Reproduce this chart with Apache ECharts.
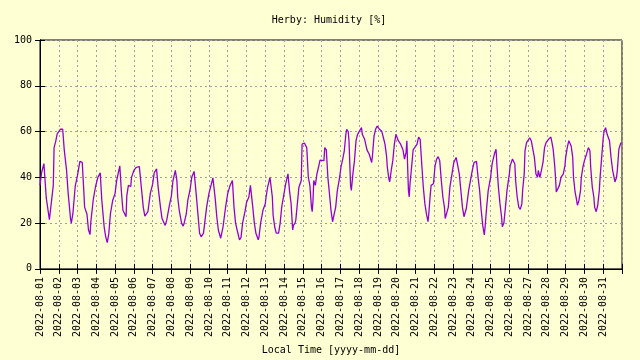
<!DOCTYPE html>
<html>
<head>
<meta charset="utf-8">
<script src="https://cdn.jsdelivr.net/npm/echarts@6/dist/echarts.min.js"></script>
<style>
html,body{margin:0;padding:0;background:#ffffd4;}
#chart{width:640px;height:360px;}
</style>
</head>
<body>
<div id="chart"></div>
<script>
// Hours since 2022-08-01 00:00 local time
const hours = [0,2,5,8,12,13,17,18,20,22,26,29,31,34,36,39,40,42,45,48,51,54,56,57,60,62,64,65,68,71,74,77,79,82,84,86,88,90,93,96,98,
102,104,106,108,110,111,113,116,117,120,123,127,130,132,134,136,138,141,144,146,149,151,154,156,160,161,162,165,168,170,173,175,176,178,181,183,184,187,189,192,194,
197,199,200,202,204,206,209,211,213,216,219,221,223,224,226,228,231,233,234,237,240,243,246,247,248,250,252,255,257,259,262,264,267,269,271,272,274,276,279,280,282,285,288,
289,291,293,294,297,298,300,302,305,307,309,312,314,317,318,319,321,323,324,326,327,329,331,334,335,338,340,341,343,345,347,348,349,350,352,354,356,358,360,363,364,366,368,370,372,374,375,378,380,383,
385,387,389,391,392,394,395,397,398,400,402,404,406,408,411,412,415,418,421,424,425,427,429,431,434,437,439,441,443,444,446,447,449,451,453,455,456,458,461,464,466,468,469,470,471,472,473,475,477,479,482,
484,486,488,490,492,494,496,497,499,500,503,505,507,509,511,513,515,517,518,520,522,524,527,529,532,534,536,538,540,542,544,545,548,551,553,555,558,560,562,564,566,568,569,571,573,576,578,
581,583,584,586,588,590,591,593,595,597,600,601,604,605,607,608,610,612,614,616,617,619,620,622,624,626,628,630,632,634,636,637,639,641,643,645,647,650,653,654,656,658,659,660,662,664,666,669,671,
672,674,676,678,679,681,682,684,686,687,689,691,692,694,696,698,701,703,704,706,708,709,711,713,715,716,718,720,721,723,725,726,728,730,732,733,735,737,738,740,742,743];

const humidity = [36.5,42,46,31,21.5,21,36.5,53,55.6,59,61,61,52,43,33,22,20,24,36,41,47,46.5,34,27,24,17,15,20.6,30,36,40,42,30,18.4,14,11.5,15.5,24,30,33,38.6,
45,34,25.6,25.6,22.8,32,36.5,36,40,43,44.4,44.7,34,27,23,22.5,25,33,37,42,43.7,35.7,27,22,19,18.4,21.3,27,32,38.6,43,38.6,31.4,25.6,20,18.7,19.6,24,30,35,40,
42.6,43,31.4,23.5,15.6,14,15.6,21.3,27,33,37,39.8,40.3,30.7,22.8,17,13.4,14,18.4,26.4,33,36.5,38.6,38.6,27,20,17,12.7,13.8,20,25,29,31.4,36.5,37,27,20,15.6,12.7,14,20,25.6,28.5,
31.4,35.7,38.6,40,31.4,23.5,18.4,15.6,15.6,20,27,33,37,41.5,40.8,34,28.5,17,19,20,21.3,28.5,35.7,38.6,54.5,55,55.2,53,40,36.5,27,25,30,38.6,36.5,41.5,44.4,47.5,48,47.3,53,52,40,33,25.6,20.6,21.3,27,34,40,
45,48,51.6,58.8,61,60,56,36.5,34.3,41.5,47.3,56,58.8,58,61.7,58.8,56.6,52,50,46.5,49.4,58,61,62.4,61,60,57.3,54.5,49.4,44.4,39.3,38,43,47.3,54.5,58.8,59.5,56,54.5,52,48,51,56,44.4,34.3,31.4,37.2,44.4,52,53,54.5,
57.6,56.6,45.8,35.7,28.5,24,20.6,24,33,36.5,37.2,45,48,49,47.3,38.6,31.4,27,22,22,27,35.7,42.2,46.5,48.7,48,41.5,34.3,27,22.8,22,26.4,34.3,40,43.7,46.5,47,40,34.3,25.6,19,14.8,18.4,27,34.3,40,46,
50.4,52.3,45.8,35.7,28.5,22.8,18.4,20,27,34.3,41.5,45,48,48.4,45.8,38.6,31.4,27,26,28.5,34.3,41.5,51.6,55.2,54.5,57.3,56,55.2,48.7,41.5,40,43,40,43,46.5,53,55.2,56.6,57.6,56,52.3,45,40,33.6,34.3,36.5,40,41.5,45,
48.7,53,56,56.6,53.7,48.7,40,33.6,30,27.8,30,34.3,40,44.4,47.3,49.4,53,51.6,44.4,35.7,31.4,27,25,27.8,34.3,40,48.7,57.3,60,61.7,58.8,58.8,56,48.7,43,41.5,38,40,43,52.3,54.5,55.2];

const dayLabels = ['2022-08-01','2022-08-02','2022-08-03','2022-08-04','2022-08-05','2022-08-06','2022-08-07','2022-08-08',
'2022-08-09','2022-08-10','2022-08-11','2022-08-12','2022-08-13','2022-08-14','2022-08-15','2022-08-16','2022-08-17',
'2022-08-18','2022-08-19','2022-08-20','2022-08-21','2022-08-22','2022-08-23','2022-08-24','2022-08-25','2022-08-26',
'2022-08-27','2022-08-28','2022-08-29','2022-08-30','2022-08-31'];
const yTicks = [0,20,40,60,80,100];

const titleText = 'Herby: Humidity [%]';
const xName = 'Local Time [yyyy-mm-dd]';

const FONT = 'DejaVu Sans Mono';
const data = hours.map((h, i) => [h, humidity[i]]);

const chart = echarts.init(document.getElementById('chart'), null, {renderer: 'canvas'});
const gridLine = {show: true, lineStyle: {color: '#a0a0a0', width: 1, type: [2, 3]}};
const axLine = {show: true, lineStyle: {color: '#000', width: 1}};
const tick = {show: true, inside: true, length: 5, lineStyle: {color: '#000', width: 1}};

chart.setOption({
  animation: false,
  backgroundColor: '#ffffd4',
  title: {
    text: titleText, left: 329, top: 14, padding: 0, textAlign: 'center',
    textStyle: {fontFamily: FONT, fontSize: 10, fontWeight: 'normal', color: '#000', lineHeight: 12}
  },
  grid: {left: 40, right: 18, top: 40, bottom: 89, show: true, borderColor: '#000', borderWidth: 1, backgroundColor: 'transparent'},
  xAxis: [{
    type: 'value', min: 0, max: 744, interval: 24, position: 'bottom',
    axisLine: axLine, axisTick: tick,
    splitLine: gridLine,
    axisLabel: {
      rotate: 90, margin: 8, fontFamily: FONT, fontSize: 10, color: '#000',
      formatter: v => dayLabels[Math.round(v / 24)] || ''
    },
    name: xName, nameLocation: 'middle', nameGap: 74,
    nameTextStyle: {fontFamily: FONT, fontSize: 10, color: '#000'}
  }, {
    type: 'value', min: 0, max: 744, interval: 24, position: 'top',
    axisLine: axLine, axisTick: tick, axisLabel: {show: false}, splitLine: {show: false}
  }],
  yAxis: [{
    type: 'value', min: 0, max: 100, interval: 20, position: 'left',
    axisLine: axLine, axisTick: tick, splitLine: gridLine,
    axisLabel: {margin: 8, fontFamily: FONT, fontSize: 10, color: '#000',
      formatter: v => yTicks.includes(v) ? String(v) : ''}
  }, {
    type: 'value', min: 0, max: 100, interval: 20, position: 'right',
    axisLine: axLine, axisTick: tick, axisLabel: {show: false}, splitLine: {show: false}
  }],
  series: [{
    type: 'line', data: data, showSymbol: false, symbol: 'none',
    lineStyle: {color: '#9400d3', width: 1.3},
    xAxisIndex: 0, yAxisIndex: 0, z: 3
  }]
});
</script>
</body>
</html>
